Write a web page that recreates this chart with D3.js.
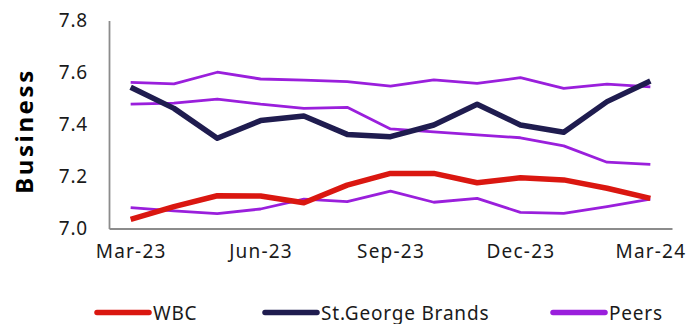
<!DOCTYPE html>
<html>
<head>
<meta charset="utf-8">
<script src="https://cdn.jsdelivr.net/npm/d3@7"></script>
<style>
  html, body { margin: 0; padding: 0; background: #ffffff; }
  svg { display: block; }
</style>
</head>
<body>
<svg id="chart" width="689" height="324"></svg>
<script>
// ---- data ----
const months = ["Mar-23","Apr-23","May-23","Jun-23","Jul-23","Aug-23","Sep-23","Oct-23","Nov-23","Dec-23","Jan-24","Feb-24","Mar-24"];
const xTickLabels = ["Mar-23","Jun-23","Sep-23","Dec-23","Mar-24"];
const yTicks = [7.0, 7.2, 7.4, 7.6, 7.8];
const wbc      = [7.035, 7.084, 7.126, 7.125, 7.099, 7.167, 7.212, 7.212, 7.176, 7.195, 7.187, 7.155, 7.116];
const stGeorge = [7.543, 7.462, 7.347, 7.415, 7.433, 7.362, 7.353, 7.398, 7.478, 7.398, 7.370, 7.488, 7.567];
const peersA   = [7.562, 7.556, 7.601, 7.575, 7.571, 7.565, 7.548, 7.572, 7.558, 7.580, 7.539, 7.555, 7.545];
const peersB   = [7.478, 7.482, 7.498, 7.478, 7.462, 7.466, 7.383, 7.372, 7.360, 7.349, 7.318, 7.255, 7.247];
const peersC   = [7.080, 7.068, 7.057, 7.075, 7.113, 7.103, 7.144, 7.101, 7.116, 7.062, 7.058, 7.084, 7.113];
const yTitle = "Business";
const legendNames = ["WBC", "St.George Brands", "Peers"];

// ---- styles ----
const COL_WBC = "#DA1710", COL_SG = "#1F1C4F", COL_PEER = "#9A1FDC";
const FONT = "'Noto Sans', 'Open Sans', sans-serif";

const svg = d3.select("#chart");
const mLeft = 109, mRight = 672, mTop = 20.5, mBottom = 228.5;

const x = d3.scalePoint().domain(months).range([mLeft, mRight]).padding(0.5);
const y = d3.scaleLinear().domain([7.0, 7.8]).range([mBottom, mTop]);

// axes
const yAxis = d3.axisLeft(y).tickValues(yTicks).tickFormat(d3.format(".1f")).tickSize(0).tickPadding(21);
const gy = svg.append("g").attr("transform", `translate(${mLeft},0)`).call(yAxis);
gy.select(".domain").attr("stroke", "#8c8c8c").attr("stroke-width", 1.8);
gy.selectAll("text").attr("font-family", FONT).attr("font-size", 19).attr("fill", "#1a1a1a").attr("letter-spacing", 0.8);

const xAxis = d3.axisBottom(x).tickValues(xTickLabels).tickSize(0).tickPadding(16);
const gx = svg.append("g").attr("transform", `translate(0,${mBottom})`).call(xAxis);
gx.select(".domain").attr("stroke", "#8c8c8c").attr("stroke-width", 1.8);
gx.selectAll("text").attr("font-family", FONT).attr("font-size", 19).attr("fill", "#1a1a1a").attr("letter-spacing", 1.2);

// y title
svg.append("text")
  .attr("transform", `translate(33,131) rotate(-90)`)
  .attr("text-anchor", "middle")
  .attr("font-family", FONT).attr("font-weight", "bold")
  .attr("font-size", 24).attr("letter-spacing", 2.6)
  .attr("fill", "#000")
  .text(yTitle);

// lines
const line = d3.line().x((d, i) => x(months[i])).y(d => y(d));
const series = [
  { vals: peersA, color: COL_PEER, w: 2.8 },
  { vals: peersB, color: COL_PEER, w: 2.8 },
  { vals: peersC, color: COL_PEER, w: 2.8 },
  { vals: wbc, color: COL_WBC, w: 5.5 },
  { vals: stGeorge, color: COL_SG, w: 5.5 }
];
svg.append("g").selectAll("path").data(series).join("path")
  .attr("d", d => line(d.vals))
  .attr("fill", "none")
  .attr("stroke", d => d.color)
  .attr("stroke-width", d => d.w)
  .attr("stroke-linejoin", "round")
  .attr("stroke-linecap", "butt");

// legend
const legendItems = [
  { name: legendNames[0], color: COL_WBC, x0: 97 },
  { name: legendNames[1], color: COL_SG, x0: 265 },
  { name: legendNames[2], color: COL_PEER, x0: 553 }
];
const lg = svg.append("g").selectAll("g").data(legendItems).join("g")
  .attr("transform", d => `translate(${d.x0},312.5)`);
lg.append("line")
  .attr("x1", 0).attr("x2", 52).attr("y1", 0).attr("y2", 0)
  .attr("stroke", d => d.color).attr("stroke-width", 5.5).attr("stroke-linecap", "round");
lg.append("text")
  .attr("x", 56).attr("y", 7)
  .attr("font-family", FONT).attr("font-size", 19).attr("fill", "#1a1a1a").attr("letter-spacing", 0.8)
  .text(d => d.name);
</script>
</body>
</html>
